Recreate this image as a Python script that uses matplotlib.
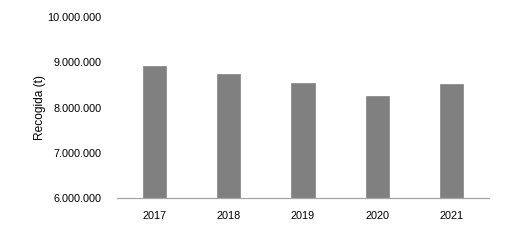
import matplotlib
matplotlib.use("Agg")
import matplotlib.pyplot as plt
from matplotlib.ticker import FuncFormatter

years = ["2017", "2018", "2019", "2020", "2021"]
recogida = [8910000, 8740000, 8540000, 8250000, 8520000]
yticks = [6000000, 7000000, 8000000, 9000000, 10000000]

plt.rcParams['font.family'] = ['Liberation Sans', 'DejaVu Sans']

fig = plt.figure(figsize=(5.21, 2.44), dpi=100)
ax = fig.add_axes([0.2246, 0.187, 0.714, 0.743])
x = range(len(years))
ax.bar(x, recogida, width=0.31, color="#808080", edgecolor="#8c8c8c", linewidth=0.6, zorder=2)
ax.set_xlim(-0.5, len(years) - 0.5)
ax.set_ylim(yticks[0], yticks[-1])
ax.set_yticks(yticks)
ax.yaxis.set_major_formatter(FuncFormatter(lambda v, p: f"{int(v):,}".replace(",", ".")))
ax.set_xticks(list(x))
ax.set_xticklabels(years)
for s in ["top", "right", "left"]:
    ax.spines[s].set_visible(False)
ax.spines["bottom"].set_color("#a6a6a6")
ax.spines["bottom"].set_linewidth(0.9)
ax.tick_params(axis="both", length=0, labelsize=7.8, colors="#000000")
ax.tick_params(axis="y", pad=11)
ax.tick_params(axis="x", pad=9)
ax.set_ylabel("Recogida (t)", fontsize=8.6, labelpad=1)
fig.savefig("out.png", dpi=100)
